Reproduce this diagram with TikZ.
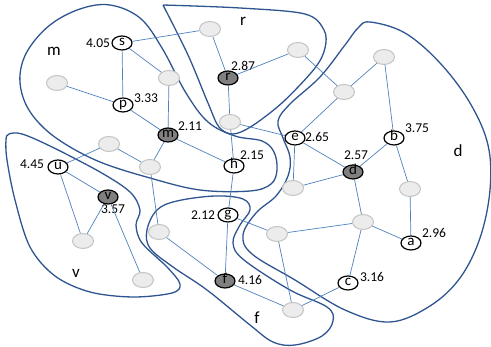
\documentclass[tikz,border=0pt]{standalone}
\usepackage{fontspec}
\setmainfont{Carlito}
\usetikzlibrary{shapes.geometric}
\definecolor{edgec}{RGB}{79,129,189}
\definecolor{blobc}{RGB}{47,85,145}
\definecolor{darkn}{RGB}{128,128,128}
\definecolor{grayfill}{RGB}{236,236,236}
\definecolor{grayline}{RGB}{196,196,196}
\begin{document}
\begin{tikzpicture}[x=1pt,y=-1pt,
  lab/.style={ellipse,draw=black,line width=1.2pt,fill=white,minimum width=20pt,minimum height=14pt,inner sep=0pt,font=\fontsize{15}{15}\selectfont,text height=1ex,text depth=0pt},
  dk/.style={lab,fill=darkn},
  gn/.style={ellipse,draw=grayline,fill=grayfill,line width=1pt,minimum width=21pt,minimum height=15pt,inner sep=0pt},
  num/.style={font=\fontsize{13.5}{13.5}\selectfont,inner sep=0pt},
  reg/.style={font=\fontsize{17}{17}\selectfont,inner sep=0pt},
  edge/.style={draw=edgec,line width=0.7pt},
  blob/.style={draw=blobc,line width=1.3pt}]
\useasboundingbox (0,0) rectangle (491,347);

% regions
\draw[blob] plot[smooth cycle,tension=0.6] coordinates {(110,5) (140,18) (162,48) (186,93) (208,122) (235,136) (262,141) (274,152) (277,170) (271,184) (250,191) (200,190) (150,178) (100,162) (62,142) (38,122) (24,100) (20,75) (28,50) (50,25) (80,9)};
\draw[blob] plot[smooth,tension=0.55] coordinates {(163,5) (240,8) (305,14) (324,30) (325,48) (315,68) (283,102) (252,126) (233,134) (219,127) (208,103) (188,55) (163,5)};
\draw[blob] plot[smooth cycle,tension=0.6] coordinates {(370,22) (405,33) (440,63) (470,103) (488,145) (490,190) (480,238) (460,278) (430,306) (390,322) (345,310) (295,280) (252,254) (243,235) (256,213) (276,196) (288,176) (290,157) (283,138) (278,121) (290,104) (320,77) (345,45) (358,28)};
\draw[blob] plot[smooth cycle,tension=0.6] coordinates {(147,230) (157,210) (177,201) (215,196) (243,199) (250,210) (240,225) (233,243) (244,260) (290,290) (327,307) (333,321) (322,336) (295,345) (273,342) (250,325) (207,290) (173,267) (150,248)};
\draw[blob] plot[smooth cycle,tension=0.55] coordinates {(9,134) (22,134) (50,146) (100,172) (130,192) (140,210) (136,225) (142,243) (167,267) (180,284) (172,293) (133,297) (90,292) (55,276) (30,247) (15,200) (7,160) (6,140)};

\node[reg] (Lm) at (54,51) {m};
\node[reg] (Lr) at (243,21) {r};
\node[reg] (Ld) at (458,151) {d};
\node[reg] (Lv) at (76,273) {v};
\node[reg] (Lf) at (257,318) {f};

% labelled nodes
\node[lab] (s) at (122,43) {s};
\node[lab] (p) at (123,105) {p};
\node[dk]  (m) at (168,135) {m};
\node[dk]  (r) at (228,78) {r};
\node[lab] (h) at (234,166) {h};
\node[lab] (e) at (295,138) {e};
\node[lab] (b) at (394,138) {b};
\node[dk]  (d) at (353,172) {d};
\node[lab] (u) at (58,167) {u};
\node[dk]  (v) at (108,197) {v};
\node[lab] (g) at (228,215) {g};
\node[dk]  (f) at (225,281) {f};
\node[lab] (c) at (348,283) {c};
\node[lab] (a) at (411,243) {a};

% grey nodes
\node[gn] (n1) at (210,29) {};
\node[gn] (n2) at (298,50) {};
\node[gn] (n3) at (57,83) {};
\node[gn] (n4) at (169,78) {};
\node[gn] (n5) at (230,122) {};
\node[gn] (n6) at (344,92) {};
\node[gn] (n7) at (384,57) {};
\node[gn] (n8) at (109,144) {};
\node[gn] (n9) at (150,167) {};
\node[gn] (n10) at (293,188) {};
\node[gn] (n11) at (410,189) {};
\node[gn] (n12) at (83,241) {};
\node[gn] (n13) at (143,280) {};
\node[gn] (n14) at (159,232) {};
\node[gn] (n15) at (277,234) {};
\node[gn] (n16) at (363,222) {};
\node[gn] (n17) at (293,310) {};

% values
\node[num] (vs) at (98,43) {4.05};
\node[num] (vp) at (146,98) {3.33};
\node[num] (vm) at (190,126) {2.11};
\node[num] (vr) at (243,66) {2.87};
\node[num] (vh) at (252,155) {2.15};
\node[num] (ve) at (317,137) {2.65};
\node[num] (vb) at (417,128) {3.75};
\node[num] (vd) at (356,155) {2.57};
\node[num] (vu) at (32,164) {4.45};
\node[num] (vv) at (113,209) {3.57};
\node[num] (vg) at (203,215) {2.12};
\node[num] (vf) at (250,280) {4.16};
\node[num] (vc) at (372,277) {3.16};
\node[num] (va) at (434,233) {2.96};

% edges
\draw[edge] (s) -- (n1);
\draw[edge] (s) -- (p);
\draw[edge] (s) -- (n4);
\draw[edge] (n3) -- (p);
\draw[edge] (p) -- (m);
\draw[edge] (n4) -- (m);
\draw[edge] (m) -- (h);
\draw[edge] (m) -- (n9);
\draw[edge] (n1) -- (r);
\draw[edge] (r) -- (n2);
\draw[edge] (r) -- (n5);
\draw[edge] (n2) -- (n6);
\draw[edge] (n6) -- (n7);
\draw[edge] (n6) -- (e);
\draw[edge] (n7) -- (b);
\draw[edge] (n5) -- (e);
\draw[edge] (n5) -- (h);
\draw[edge] (e) -- (d);
\draw[edge] (h) -- (g);
\draw[edge] (e) -- (n10);
\draw[edge] (n10) -- (d);
\draw[edge] (b) -- (d);
\draw[edge] (b) -- (n11);
\draw[edge] (n11) -- (a);
\draw[edge] (d) -- (n16);
\draw[edge] (n16) -- (a);
\draw[edge] (n16) -- (n15);
\draw[edge] (n16) -- (c);
\draw[edge] (g) -- (n15);
\draw[edge] (n15) -- (n17);
\draw[edge] (n17) -- (c);
\draw[edge] (f) -- (n17);
\draw[edge] (f) -- (n14);
\draw[edge] (f) -- (g);
\draw[edge] (n14) -- (n9);
\draw[edge] (u) -- (n8);
\draw[edge] (n8) -- (n9);
\draw[edge] (u) -- (v);
\draw[edge] (u) -- (n12);
\draw[edge] (v) -- (n12);
\draw[edge] (v) -- (n13);
\end{tikzpicture}
\end{document}
